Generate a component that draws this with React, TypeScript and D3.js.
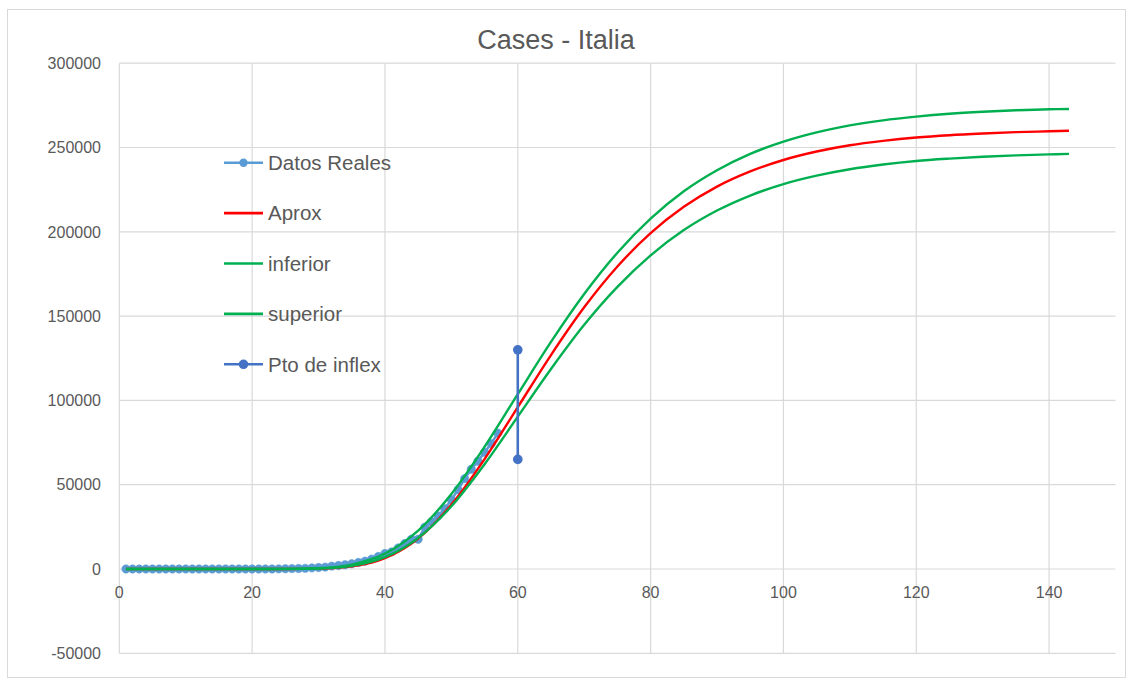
import React from "react";
import * as d3 from "d3";

// ---------- data ----------
const title = "Cases - Italia";
const xTicks = [0, 20, 40, 60, 80, 100, 120, 140];
const yTicks = [-50000, 0, 50000, 100000, 150000, 200000, 250000, 300000];

// Datos Reales (day 1..57)
const realDays = [
  1, 2, 3, 4, 5, 6, 7, 8, 9, 10, 11, 12, 13, 14, 15, 16, 17, 18, 19, 20,
  21, 22, 23, 24, 25, 26, 27, 28, 29, 30, 31, 32, 33, 34, 35, 36, 37, 38, 39, 40,
  41, 42, 43, 44, 45, 46, 47, 48, 49, 50, 51, 52, 53, 54, 55, 56, 57,
];
const realValues = [
  3, 3, 3, 3, 3, 3, 3, 3, 3, 3, 3, 3, 3, 3, 3, 3, 3, 3, 3, 3,
  3, 3, 20, 79, 157, 229, 322, 400, 655, 889, 1128, 1694, 2036, 2502, 3089, 3858, 4636, 5883, 7375, 9172,
  10149, 12462, 15113, 17660, 17660, 24747, 27980, 31506, 35713, 41035, 47021, 53578, 59138, 63927, 69176, 74386, 80589,
];

// model curves, read at these days
const curveDays = [1, 5, 10, 15, 20, 25, 30, 35, 40, 45, 50, 55, 60, 65, 70, 75, 80, 85, 90, 95, 100, 105, 110, 115, 120, 125, 130, 135, 140, 143];
const aproxValues = [0, 0, 0, 0, 0, 14, 212, 1540, 6460, 18100, 38200, 65200, 96000, 126900, 155200, 179400, 199200, 214800, 226800, 235800, 242600, 247600, 251300, 253900, 255900, 257300, 258300, 259100, 259600, 259900];
const inferiorValues = [0, 0, 0, 0, 1, 26, 307, 1870, 7030, 18420, 37200, 62150, 90340, 118600, 144800, 167300, 186000, 201000, 212600, 221500, 228300, 233300, 237100, 239900, 242000, 243400, 244500, 245300, 245900, 246200];
const superiorValues = [0, 0, 0, 0, 2, 46, 471, 2610, 9110, 22760, 44450, 72500, 103700, 134700, 163100, 187600, 207800, 224000, 236500, 246200, 253500, 259000, 263100, 266100, 268300, 270000, 271200, 272100, 272700, 272800];

// Pto de inflex
const inflexDays = [60, 60];
const inflexValues = [130000, 65000];

const legendNames = ["Datos Reales", "Aprox", "inferior", "superior", "Pto de inflex"];

// ---------- styling ----------
const C_REAL = "#5b9bd5";
const C_APROX = "#ff0000";
const C_BAND = "#00b050";
const C_INFLEX = "#4472c4";
const C_GRID = "#d9d9d9";
const C_TEXT = "#595959";
const FONT = "'Liberation Sans', Arial, sans-serif";

const W = 1133;
const H = 685;

export default function App() {
  const x = d3.scaleLinear().domain([0, 150]).range([119.3, 1115.5]);
  const y = d3.scaleLinear().domain([-50000, 300000]).range([653.3, 63.2]);

  const zip = (xs: number[], ys: number[]) => xs.map((d, i) => [d, ys[i]] as [number, number]);

  const lineStraight = d3
    .line<[number, number]>()
    .x((d) => x(d[0]))
    .y((d) => y(d[1]));
  const lineSmooth = d3
    .line<[number, number]>()
    .x((d) => x(d[0]))
    .y((d) => y(d[1]))
    .curve(d3.curveMonotoneX);

  const real = zip(realDays, realValues);
  const aprox = zip(curveDays, aproxValues);
  const inf = zip(curveDays, inferiorValues);
  const sup = zip(curveDays, superiorValues);
  const inflex = zip(inflexDays, inflexValues);

  const [x0, x1] = x.range();
  const [yb, yt] = y.range();

  const legendX1 = 224;
  const legendX2 = 263;
  const legendTextX = 268;
  const legendY0 = 162.7;
  const legendStep = 50.4;
  const legendStyles = [
    { color: C_REAL, marker: 4.2 },
    { color: C_APROX, marker: 0 },
    { color: C_BAND, marker: 0 },
    { color: C_BAND, marker: 0 },
    { color: C_INFLEX, marker: 4.8 },
  ];

  return (
    <svg
      width={W}
      height={H}
      style={{ position: "absolute", left: 0, top: 0, background: "#fff" }}
      fontFamily={FONT}
    >
      <rect x={0} y={0} width={W} height={H} fill="#fff" />
      <rect x={7.5} y={9.5} width={1118} height={668} fill="none" stroke={C_GRID} strokeWidth={1} />

      {/* title */}
      <text x={556} y={49} textAnchor="middle" fontSize={27} fill={C_TEXT}>
        {title}
      </text>

      {/* gridlines */}
      {yTicks.map((t) => (
        <line key={"gy" + t} x1={x0} x2={x1} y1={y(t)} y2={y(t)} stroke={C_GRID} strokeWidth={1.2} />
      ))}
      {xTicks.map((t) => (
        <line key={"gx" + t} x1={x(t)} x2={x(t)} y1={yt} y2={yb} stroke={C_GRID} strokeWidth={1.2} />
      ))}

      {/* y tick labels */}
      {yTicks.map((t) => (
        <text key={"ly" + t} x={101} y={y(t)} dy="0.36em" textAnchor="end" fontSize={16} fill={C_TEXT}>
          {t}
        </text>
      ))}
      {/* x tick labels */}
      {xTicks.map((t) => (
        <text key={"lx" + t} x={x(t)} y={y(0) + 29} textAnchor="middle" fontSize={16} fill={C_TEXT}>
          {t}
        </text>
      ))}

      {/* Datos Reales */}
      <path d={lineStraight(real) || ""} fill="none" stroke={C_REAL} strokeWidth={2.5} />
      {real.map((d, i) => (
        <circle key={"r" + i} cx={x(d[0])} cy={y(d[1])} r={4.2} fill={C_REAL} stroke={C_REAL} strokeWidth={0.5} />
      ))}

      {/* model curves */}
      <path d={lineSmooth(aprox) || ""} fill="none" stroke={C_APROX} strokeWidth={2.4} />
      <path d={lineSmooth(inf) || ""} fill="none" stroke={C_BAND} strokeWidth={2.4} />
      <path d={lineSmooth(sup) || ""} fill="none" stroke={C_BAND} strokeWidth={2.4} />

      {/* Pto de inflex */}
      <path d={lineStraight(inflex) || ""} fill="none" stroke={C_INFLEX} strokeWidth={2.6} />
      {inflex.map((d, i) => (
        <circle key={"p" + i} cx={x(d[0])} cy={y(d[1])} r={4.8} fill={C_INFLEX} />
      ))}

      {/* legend */}
      {legendNames.map((name, i) => {
        const ly = legendY0 + i * legendStep;
        const st = legendStyles[i];
        return (
          <g key={"lg" + i}>
            <line x1={legendX1} x2={legendX2} y1={ly} y2={ly} stroke={st.color} strokeWidth={2.6} />
            {st.marker > 0 && <circle cx={(legendX1 + legendX2) / 2} cy={ly} r={st.marker} fill={st.color} />}
            <text x={legendTextX} y={ly} dy="0.36em" fontSize={20.5} fill={C_TEXT}>
              {name}
            </text>
          </g>
        );
      })}
    </svg>
  );
}
